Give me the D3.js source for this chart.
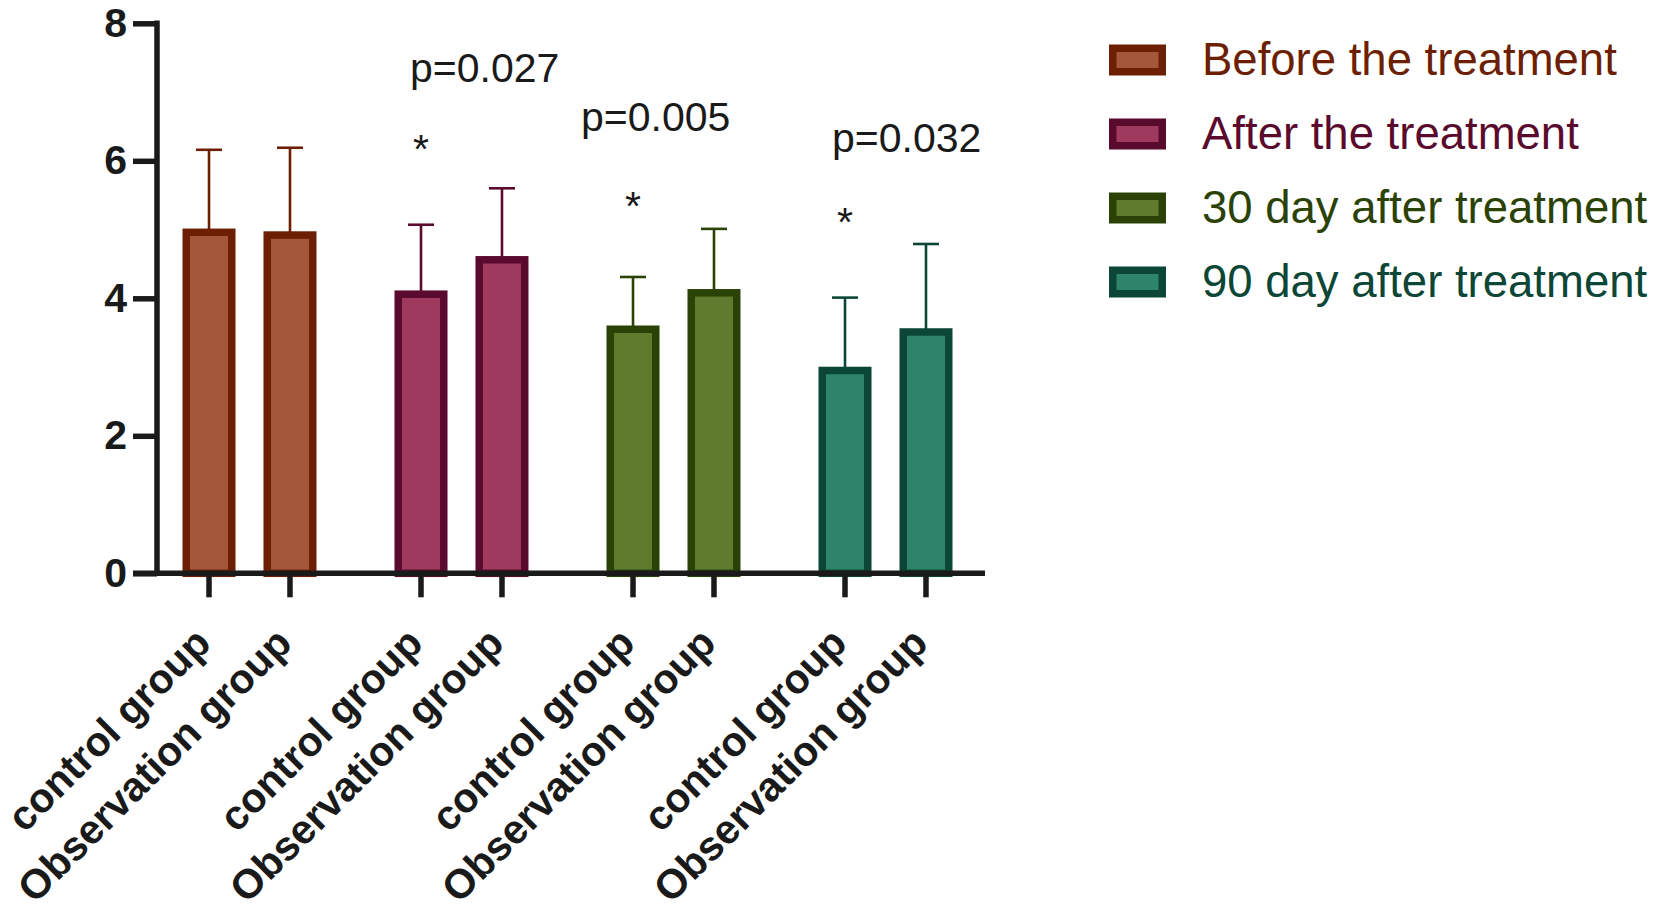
<!DOCTYPE html>
<html>
<head>
<meta charset="utf-8">
<script src="https://cdn.jsdelivr.net/npm/d3@7"></script>
<style>
  body { margin: 0; background: #fff; }
  svg { display: block; font-family: "Liberation Sans", Arial, sans-serif; }
</style>
</head>
<body>
<svg id="chart" width="1654" height="914"></svg>
<script>
// data
const periods = ["Before the treatment", "After the treatment", "30 day after treatment", "90 day after treatment"];
const groups = ["control group", "Observation group"];
const controlMeans = [4.96, 4.06, 3.55, 2.95];
const controlSD = [1.20, 1.01, 0.76, 1.06];
const observationMeans = [4.92, 4.56, 4.08, 3.51];
const observationSD = [1.27, 1.04, 0.93, 1.28];
const pLabels = [null, "p=0.027", "p=0.005", "p=0.032"];
const pLabelY = [null, 7.15, 6.43, 6.13];
const pLabelDx = [0, -11, -52, -13];
const starY = [null, 6.30, 5.47, 5.24];
const yTicks = [0, 2, 4, 6, 8];

const fills = ["#a5573b", "#9e3a5e", "#607a2e", "#2e846b"];
const strokes = ["#6c1f02", "#5a0b2d", "#2b4206", "#0c4636"];

const svg = d3.select("#chart");

const y = d3.scaleLinear()
    .domain([0, 8])
    .range([573.3, 23.3]);

const xGroup = d3.scaleBand()
    .domain(periods)
    .range([143.5, 991.5]);

const xInner = d3.scaleBand()
    .domain(groups)
    .range([0, xGroup.bandwidth()])
    .paddingInner(0.438)
    .paddingOuter(0.528);

const barW = xInner.bandwidth();
const borderW = 7.5;

// one row per bar
const bars = [];
periods.forEach((p, i) => {
    bars.push({ period: p, group: groups[0], mean: controlMeans[i], sd: controlSD[i], k: i });
    bars.push({ period: p, group: groups[1], mean: observationMeans[i], sd: observationSD[i], k: i });
});

function barCenter(d) {
    return xGroup(d.period) + xInner(d.group) + barW / 2;
}

// error bars (upper only)
const err = svg.append("g");
err.selectAll("line.stem")
    .data(bars)
    .enter().append("line")
    .attr("x1", barCenter)
    .attr("x2", barCenter)
    .attr("y1", d => y(d.mean))
    .attr("y2", d => y(d.mean + d.sd))
    .attr("stroke", d => strokes[d.k])
    .attr("stroke-width", 2.6);

err.selectAll("line.cap")
    .data(bars)
    .enter().append("line")
    .attr("x1", d => barCenter(d) - 13)
    .attr("x2", d => barCenter(d) + 13)
    .attr("y1", d => y(d.mean + d.sd))
    .attr("y2", d => y(d.mean + d.sd))
    .attr("stroke", d => strokes[d.k])
    .attr("stroke-width", 2.6);

// bars
svg.append("g").selectAll("rect")
    .data(bars)
    .enter().append("rect")
    .attr("x", d => barCenter(d) - barW / 2)
    .attr("y", d => y(d.mean))
    .attr("width", barW)
    .attr("height", d => y(0) - y(d.mean))
    .attr("fill", d => fills[d.k])
    .attr("stroke", d => strokes[d.k])
    .attr("stroke-width", borderW);

// y axis
const yAxis = svg.append("g")
    .attr("transform", "translate(157,0)")
    .call(d3.axisLeft(y).tickValues(yTicks).tickSize(24).tickSizeOuter(0).tickPadding(6).tickFormat(d3.format("d")));

yAxis.attr("font-size", null).attr("font-family", null);
yAxis.select(".domain").attr("stroke", "#1a1a1a").attr("stroke-width", 5.5)
    .attr("d", `M0,${y(8) - 2.75}V${y(0)}`);
yAxis.selectAll(".tick line").attr("stroke", "#1a1a1a").attr("stroke-width", 5.5);
yAxis.selectAll(".tick text")
    .attr("fill", "#1a1a1a")
    .style("font-size", "41px")
    .style("font-weight", "bold");

// x axis
const xAxis = svg.append("g");
xAxis.append("line")
    .attr("x1", 133)
    .attr("x2", 985)
    .attr("y1", y(0))
    .attr("y2", y(0))
    .attr("stroke", "#1a1a1a")
    .attr("stroke-width", 5.5);

xAxis.selectAll("line.tick")
    .data(bars)
    .enter().append("line")
    .attr("class", "tick")
    .attr("x1", barCenter)
    .attr("x2", barCenter)
    .attr("y1", y(0))
    .attr("y2", y(0) + 24)
    .attr("stroke", "#1a1a1a")
    .attr("stroke-width", 5.5);

xAxis.selectAll("text")
    .data(bars)
    .enter().append("text")
    .attr("transform", d => `translate(${barCenter(d) + 4},${y(0) + 72}) rotate(-45)`)
    .attr("text-anchor", "end")
    .style("font-size", "41px")
    .style("font-weight", "bold")
    .attr("fill", "#1a1a1a")
    .text(d => d.group);

// significance marks
const notes = svg.append("g").attr("fill", "#1a1a1a");
periods.forEach((p, i) => {
    if (!pLabels[i]) return;
    const cx = xGroup(p) + xInner(groups[0]) + barW / 2;
    notes.append("text")
        .attr("x", cx + pLabelDx[i])
        .attr("y", y(pLabelY[i]))
        .style("font-size", "41px")
        .text(pLabels[i]);
    notes.append("text")
        .attr("x", cx)
        .attr("y", y(starY[i]) + 23)
        .attr("text-anchor", "middle")
        .style("font-size", "41px")
        .text("*");
});

// legend
const legend = svg.append("g");
periods.forEach((p, i) => {
    const base = 75 + i * 74;
    legend.append("rect")
        .attr("x", 1109 + borderW / 2)
        .attr("y", base - 15 - 15.5 + borderW / 2)
        .attr("width", 57 - borderW)
        .attr("height", 31 - borderW)
        .attr("fill", fills[i])
        .attr("stroke", strokes[i])
        .attr("stroke-width", borderW);
    legend.append("text")
        .attr("x", 1202)
        .attr("y", base)
        .style("font-size", "45.5px")
        .attr("fill", strokes[i])
        .text(p);
});
</script>
</body>
</html>
